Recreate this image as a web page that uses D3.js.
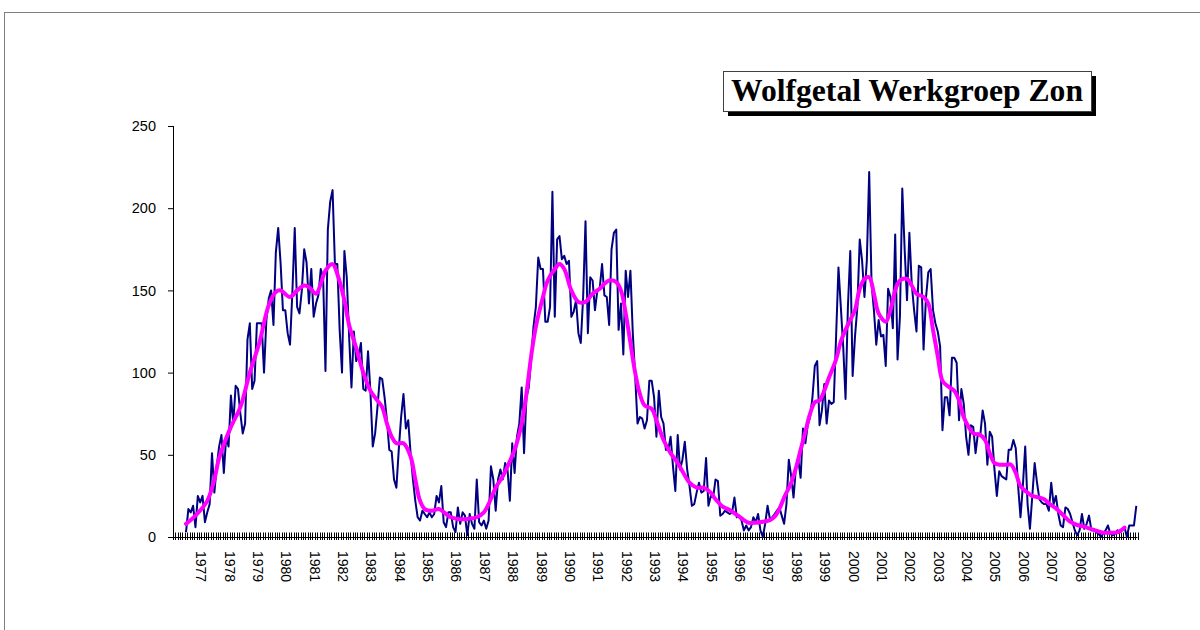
<!DOCTYPE html>
<html><head><meta charset="utf-8">
<script src="https://cdn.jsdelivr.net/npm/d3@7"></script>
<style>
body{margin:0;background:#fff;}
svg{display:block;}
</style></head><body>
<svg id="chart" width="1200" height="630"></svg>
<script>
const title = "Wolfgetal Werkgroep Zon";
const startYear = 1976, endYear = 2009;
const yearLabels = ["1977","1978","1979","1980","1981","1982","1983","1984","1985","1986","1987","1988","1989","1990","1991","1992","1993","1994","1995","1996","1997","1998","1999","2000","2001","2002","2003","2004","2005","2006","2007","2008","2009"];
const yTicks = [0, 50, 100, 150, 200, 250];

// Monthly Wolf numbers, June 1976 - December 2009
const wolfStart = "1976-06";
const wolfgetal = [
3,17,15,19,6,25,21,25,9,15,
20,51,27,43,55,62,39,61,55,86,
69,92,90,75,63,69,120,130,90,95,
130,130,130,100,132,145,150,129,173,188,
167,138,138,124,117,149,188,140,136,150,
175,167,142,163,134,142,147,163,158,101,
187,204,211,166,166,126,100,174,158,122,
91,125,107,110,118,90,89,113,89,55,
63,79,97,96,85,71,53,52,35,30,
53,73,87,66,71,
51,35,22,12,10,16,14,12,15,12,
14,25,21,31,9,6,15,15,6,3,
18,8,15,13,1,14,8,5,35,9,
7,10,5,10,43,35,16,35,41,35,
45,41,22,57,39,61,69,91,51,
85,91,108,128,140,170,163,163,131,131,
140,210,134,181,183,169,171,166,168,134,
137,144,124,118,146,192,124,158,156,138,
150,151,166,147,146,129,175,185,187,126,
142,111,162,146,162,124,98,69,73,72,
66,71,
95,95,85,61,89,73,69,53,53,61,
43,28,62,41,47,58,41,31,19,20,
27,33,27,28,48,19,25,24,35,
34,13,14,16,15,14,15,24,12,13,
10,4,7,4,6,12,9,14,4,0,
8,19,11,12,14,16,18,13,8,20,
47,37,24,42,47,36,66,57,68,
73,85,104,107,68,77,93,69,83,81,
82,122,164,140,116,84,140,174,98,122,
140,181,168,146,168,222,154,138,117,
132,122,123,104,151,146,127,184,108,134,
212,175,144,185,154,138,125,165,164,114,
145,161,163,138,130,125,116,65,85,85,
74,109,109,106,71,90,81,61,50,68,
67,51,63,62,77,69,44,64,61,41,
25,40,37,36,35,53,53,59,54,31,
12,31,55,20,5,25,45,33,23,21,
20,20,16,33,20,25,14,7,6,18,
17,14,9,4,1,4,14,5,8,13,
4,5,3,2,0,2,4,7,2,1,
2,4,3,5,6,0,7,7,7,19
];

// Smoothed (running mean) values
const smoothedMonths = ["1976-06","1976-10","1977-03","1977-06","1977-08","1978-01","1978-05","1978-09","1979-01","1979-05","1979-08","1979-10","1980-02","1980-05","1980-08","1980-10","1981-01","1981-03","1981-05","1981-08","1981-10","1982-01","1982-03","1982-06","1982-09","1982-12","1983-03","1983-05","1983-07","1983-09","1983-11","1984-02","1984-05","1984-07","1984-09","1984-11","1985-02","1985-05","1985-08","1985-10","1986-01","1986-05","1986-09","1986-12","1987-02","1987-05","1987-08","1987-10","1988-01","1988-04","1988-06","1988-08","1988-10","1989-01","1989-03","1989-06","1989-08","1989-10","1990-01","1990-04","1990-07","1990-10","1991-01","1991-03","1991-05","1991-08","1991-10","1991-12","1992-02","1992-04","1992-06","1992-08","1992-11","1993-01","1993-04","1993-07","1993-10","1993-12","1994-03","1994-06","1994-09","1994-12","1995-02","1995-05","1995-08","1995-11","1996-02","1996-04","1996-07","1996-10","1997-01","1997-03","1997-05","1997-07","1997-10","1997-12","1998-02","1998-04","1998-06","1998-08","1998-10","1998-12","1999-02","1999-05","1999-07","1999-09","1999-11","2000-01","2000-03","2000-05","2000-07","2000-09","2000-11","2001-02","2001-04","2001-06","2001-08","2001-11","2002-01","2002-03","2002-06","2002-08","2002-10","2002-12","2003-02","2003-04","2003-07","2003-09","2003-11","2004-01","2004-03","2004-06","2004-08","2004-10","2004-12","2005-02","2005-05","2005-07","2005-09","2005-11","2006-02","2006-04","2006-07","2006-09","2006-11","2007-02","2007-05","2007-08","2007-11","2008-02","2008-04","2008-07","2008-10","2009-01","2009-04","2009-06","2009-07"];
const smoothedValues = [8,13,22,35,48,67,79,100,118,141,149,150,146,150,153,152,148,154,162,166,160,144,129,115,100,89,83,79,69,61,57,57,49,35,22,17,16,17,14,12,11,11,12,15,20,30,37,43,53,69,87,110,128,146,156,163,166,163,150,143,143,148,151,154,156,155,150,136,118,100,87,80,78,71,59,51,45,40,33,30,30,27,23,18.5,16.4,13.4,10.3,8.7,8.7,9.3,10.3,12.4,17,24,33,42,53,64,75,82,83,89,97,108,119,126,132,138,151,157,158,148,136,131,138,150,156,157,153,148,146,142,126,110,95,92,89,83,73,67,63,62,59,51,45,44,44,44,39,31,27,25,24,23,20.5,17.4,13.4,9.3,7.3,6.3,5.3,3.9,2.6,2.6,2.8,4.5,5.7];

// ---------- build ----------
const months = [];
for (let yr = startYear; yr <= endYear; yr++)
  for (let m = 1; m <= 12; m++) months.push(yr + "-" + String(m).padStart(2, "0"));

const svg = d3.select("#chart");
const x = d3.scaleBand().domain(months).range([173, 1137.5]).padding(0);
const y = d3.scaleLinear().domain([0, 250]).range([537, 126]);
const cx = m => x(m) + x.bandwidth() / 2;

// outer frame
svg.append("rect").attr("x", 4.5).attr("y", 12.5).attr("width", 1200).attr("height", 640)
  .attr("fill", "none").attr("stroke", "#808080").attr("stroke-width", 1);

// y axis
const yAxis = d3.axisLeft(y).tickValues(yTicks).tickSize(5).tickPadding(12).tickFormat(d3.format("d"));
const gy = svg.append("g").attr("transform", "translate(173,0)").call(yAxis);
gy.select(".domain").attr("stroke", "#000").attr("d", `M0.5,${y(250)}V${y(0)}`);
gy.selectAll(".tick line").attr("stroke", "#000");
gy.selectAll(".tick text").attr("font-family", "'Liberation Sans', Arial, sans-serif")
  .attr("font-size", 14.5).attr("fill", "#000");

// x axis line + category tick marks (cross)
const boundaries = months.map(m => x(m)).concat([x.range()[1]]);
svg.append("path")
  .attr("d", boundaries.map(b => `M${Math.round(b) + 0.5},${y(0) - 4.5}V${y(0) + 3}`).join(""))
  .attr("stroke", "#000").attr("stroke-width", 1).attr("fill", "none");
svg.append("line").attr("x1", 168).attr("x2", x.range()[1]).attr("y1", y(0) + 0.5).attr("y2", y(0) + 0.5)
  .attr("stroke", "#000");

// x labels (rotated)
svg.append("g").selectAll("text").data(yearLabels).join("text")
  .attr("transform", d => `translate(${cx(d + "-01") - 1.5},${y(0) + 14}) rotate(90)`)
  .attr("dy", "0.35em")
  .attr("text-anchor", "start")
  .attr("font-family", "'Liberation Sans', Arial, sans-serif")
  .attr("font-size", 14).attr("fill", "#000")
  .text(d => d);

// data lines
const startIdx = months.indexOf(wolfStart);
const wolfData = wolfgetal.map((v, i) => ({ m: months[startIdx + i], v }));
const smoothData = smoothedMonths.map((m, i) => ({ m, v: smoothedValues[i] }));

svg.append("path").datum(wolfData)
  .attr("d", d3.line().x(d => cx(d.m)).y(d => y(d.v)))
  .attr("fill", "none").attr("stroke", "#000080").attr("stroke-width", 2)
  .attr("stroke-linejoin", "round");

svg.append("path").datum(smoothData)
  .attr("d", d3.line().x(d => cx(d.m)).y(d => y(d.v)).curve(d3.curveCatmullRom.alpha(0.5)))
  .attr("fill", "none").attr("stroke", "#FF00FF").attr("stroke-width", 4)
  .attr("stroke-linejoin", "round").attr("stroke-linecap", "round");

// title box with shadow
const tb = { x: 723, y: 71, w: 368, h: 40 };
svg.append("rect").attr("x", tb.x + 5).attr("y", tb.y + 5).attr("width", tb.w).attr("height", tb.h).attr("fill", "#000");
svg.append("rect").attr("x", tb.x + 0.5).attr("y", tb.y + 0.5).attr("width", tb.w).attr("height", tb.h)
  .attr("fill", "#fff").attr("stroke", "#404040").attr("stroke-width", 1);
svg.append("text").attr("x", tb.x + tb.w / 2).attr("y", tb.y + 29.5)
  .attr("text-anchor", "middle")
  .attr("font-family", "'Liberation Serif', 'Times New Roman', serif")
  .attr("font-weight", "bold").attr("font-size", 31.5).attr("fill", "#000")
  .attr("textLength", 352).attr("lengthAdjust", "spacingAndGlyphs")
  .text(title);
</script>
</body></html>
